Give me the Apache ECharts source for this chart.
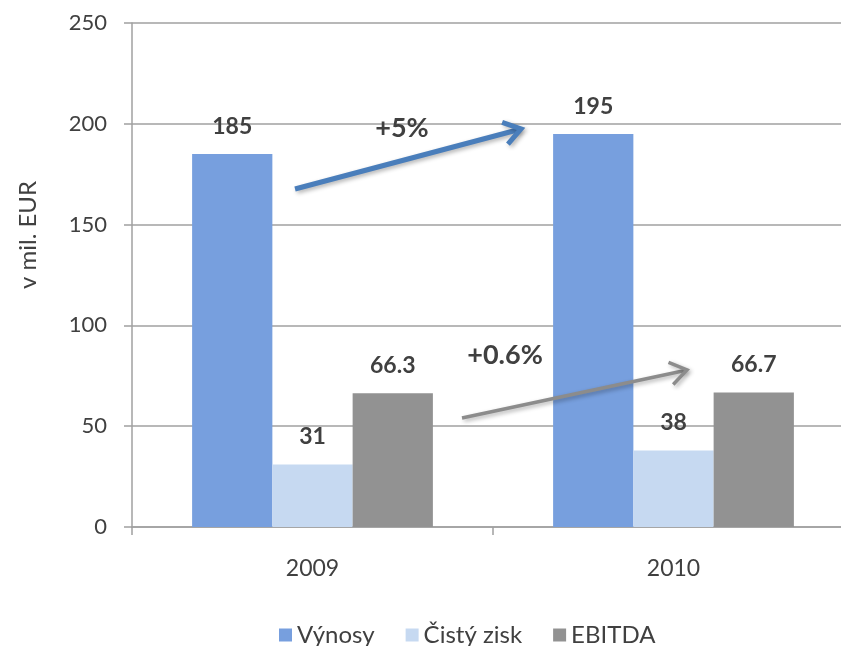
<!DOCTYPE html>
<html>
<head>
<meta charset="utf-8">
<script src="https://cdn.jsdelivr.net/npm/echarts@6/dist/echarts.min.js"></script>
<style>
  html, body { margin: 0; padding: 0; background: #fff; overflow: hidden; }
  /* plot area runs past the right edge in the original, so the canvas is wider than the window */
  #chart { width: 900px; height: 646px; }
</style>
</head>
<body>
<div id="chart"></div>
<script>
// data
const years = ["2009", "2010"];
const vynosy = [185, 195];
const cistyZisk = [31, 38];
const ebitda = [66.3, 66.7];
const seriesNames = ["Výnosy", "Čistý zisk", "EBITDA"];
const colors = ["#779fde", "#c6d9f1", "#929292"];

const FONT = "Lato";
const TEXT = "#404040";

const chart = echarts.init(document.getElementById("chart"));

const label = {
  show: true,
  position: "top",
  distance: 16,
  color: TEXT,
  fontFamily: FONT,
  fontWeight: "bold",
  fontSize: 23,
};

const makeBar = (name, values, color) => ({
  name: name,
  type: "bar",
  data: values,
  barGap: "0%",
  barCategoryGap: "33.3%",
  itemStyle: { color: color },
  label: label,
  emphasis: { disabled: true },
});

// open chevron arrow (annotation)
const arrow = (x1, y1, x2, y2, color, width) => {
  const ang = Math.atan2(y2 - y1, x2 - x1);
  const len = 20, spread = 0.6;
  const h1 = [x2 - len * Math.cos(ang - spread), y2 - len * Math.sin(ang - spread)];
  const h2 = [x2 - len * Math.cos(ang + spread), y2 - len * Math.sin(ang + spread)];
  const style = {
    stroke: color,
    lineWidth: width,
    fill: null,
    shadowBlur: 4,
    shadowOffsetX: 2,
    shadowOffsetY: 2,
    shadowColor: "rgba(0,0,0,0.3)",
  };
  return [
    { type: "polyline", shape: { points: [[x1, y1], [x2 - 2 * Math.cos(ang), y2 - 2 * Math.sin(ang)]] }, style: style, z: 100 },
    { type: "polyline", shape: { points: [h1, [x2, y2], h2] }, style: style, z: 100 },
  ];
};

const option = {
  animation: false,
  textStyle: { fontFamily: FONT, color: TEXT },
  color: colors,
  grid: { left: 132, top: 23, width: 722, height: 504, containLabel: false },
  legend: {
    top: 618,
    left: 274,
    data: seriesNames,
    icon: "rect",
    itemWidth: 13,
    itemHeight: 13,
    itemGap: 31,
    textStyle: { fontFamily: FONT, fontSize: 24, color: TEXT },
  },
  xAxis: {
    type: "category",
    data: years,
    axisLine: { lineStyle: { color: "#a0a0a0", width: 1.5 } },
    axisTick: { show: true, length: 8, lineStyle: { color: "#a0a0a0", width: 1.5 } },
    axisLabel: { margin: 30, fontSize: 23, color: TEXT, fontFamily: FONT },
  },
  yAxis: {
    type: "value",
    min: 0,
    max: 250,
    interval: 50,
    axisLine: { show: true, lineStyle: { color: "#a0a0a0", width: 1.5 } },
    axisTick: { show: true, length: 8, lineStyle: { color: "#a0a0a0", width: 1.5 } },
    axisLabel: { margin: 25, fontSize: 22, color: TEXT, fontFamily: FONT },
    splitLine: { lineStyle: { color: "#a0a0a0", width: 1.5 } },
  },
  series: [
    makeBar(seriesNames[0], vynosy, colors[0]),
    makeBar(seriesNames[1], cistyZisk, colors[1]),
    makeBar(seriesNames[2], ebitda, colors[2]),
  ],
  graphic: [
    // y axis title
    {
      type: "text", x: 28, y: 235, rotation: Math.PI / 2,
      style: { text: "v mil. EUR", fontFamily: FONT, fontSize: 24, fill: TEXT, align: "center", verticalAlign: "middle" },
    },
    ...arrow(295, 189, 521, 129, "#4a7ebb", 5),
    ...arrow(462, 418, 687, 370, "#8c8c8c", 3.5),
    {
      type: "text", x: 402, y: 128, z: 100,
      style: { text: "+5%", fontFamily: FONT, fontWeight: "bold", fontSize: 27, fill: TEXT, align: "center", verticalAlign: "middle" },
    },
    {
      type: "text", x: 505, y: 355, z: 100,
      style: { text: "+0.6%", fontFamily: FONT, fontWeight: "bold", fontSize: 27, fill: TEXT, align: "center", verticalAlign: "middle" },
    },
  ],
};

chart.setOption(option);
</script>
</body>
</html>
